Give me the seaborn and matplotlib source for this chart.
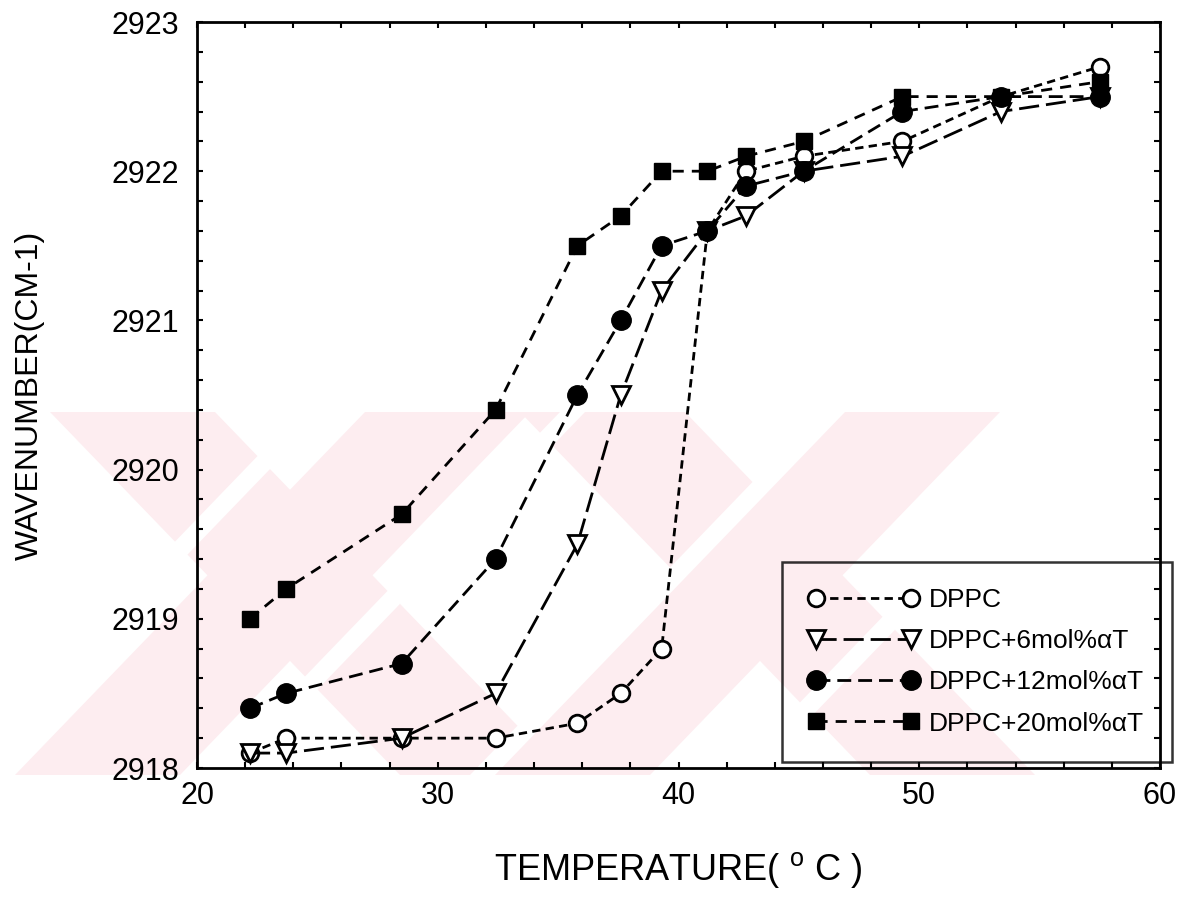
import matplotlib
matplotlib.use("Agg")
import matplotlib.pyplot as plt
import numpy as np
import pandas as pd
import seaborn as sns
from matplotlib import font_manager
from matplotlib.patches import Polygon
from matplotlib.ticker import MultipleLocator

# Measured C-H stretching wavenumber versus temperature
temperature = [22.2, 23.7, 28.5, 32.4, 35.8, 37.6, 39.3, 41.2, 42.8, 45.2, 49.3, 53.4, 57.5]
dppc = [2918.1, 2918.2, 2918.2, 2918.2, 2918.3, 2918.5, 2918.8, 2921.6, 2922.0, 2922.1, 2922.2, 2922.5, 2922.7]
dppc_6 = [2918.1, 2918.1, 2918.2, 2918.5, 2919.5, 2920.5, 2921.2, 2921.6, 2921.7, 2922.0, 2922.1, 2922.4, 2922.5]
dppc_12 = [2918.4, 2918.5, 2918.7, 2919.4, 2920.5, 2921.0, 2921.5, 2921.6, 2921.9, 2922.0, 2922.4, 2922.5, 2922.5]
dppc_20 = [2919.0, 2919.2, 2919.7, 2920.4, 2921.5, 2921.7, 2922.0, 2922.0, 2922.1, 2922.2, 2922.5, 2922.5, 2922.6]
series_labels = ["DPPC", "DPPC+6mol%αT", "DPPC+12mol%αT", "DPPC+20mol%αT"]

sns.set_theme(style="white")
available = {f.name for f in font_manager.fontManager.ttflist}
narrow = "Liberation Sans Narrow" if "Liberation Sans Narrow" in available else "Liberation Sans"
plt.rcParams["font.family"] = ["Liberation Sans", "DejaVu Sans"]
plt.rcParams["mathtext.fontset"] = "custom"
plt.rcParams["mathtext.rm"] = narrow
plt.rcParams["mathtext.it"] = narrow
plt.rcParams["lines.scale_dashes"] = False

W, H = 1194, 913
fig = plt.figure(figsize=(W / 100, H / 100), dpi=100, facecolor="white")

# faint background emblem
def px_poly(pts, color):
    xy = [(x / W, 1 - y / H) for x, y in pts]
    fig.patches.append(Polygon(xy, closed=True, transform=fig.transFigure,
                               facecolor=color, edgecolor="none", zorder=-5))

pink = "#fdedf0"
for dx in (0, 470):
    px_poly([(50 + dx, 412), (215 + dx, 412), (565 + dx, 775), (400 + dx, 775)], pink)
    px_poly([(365 + dx, 412), (530 + dx, 412), (180 + dx, 775), (15 + dx, 775)], pink)
for dx in (0, 260, 520, 780):
    px_poly([(300 + dx, 412), (325 + dx, 412), (-25 + dx, 775), (-50 + dx, 775)], "white")

ax = fig.add_axes([197 / W, 1 - 768 / H, (1160 - 197) / W, (768 - 22) / H])
ax.set_facecolor("none")

styles = [
    dict(marker="o", markersize=12, markerfacecolor="white", markeredgewidth=2.0, linestyle=(0, (6.0, 3.8))),
    dict(marker="v", markersize=13, markerfacecolor="white", markeredgewidth=2.0, linestyle=(0, (14.5, 5.0))),
    dict(marker="o", markersize=14, markerfacecolor="black", markeredgewidth=1.0, linestyle=(0, (10.0, 5.0))),
    dict(marker="s", markersize=12, markerfacecolor="black", markeredgewidth=1.0, linestyle=(0, (8.0, 5.8))),
]

for values, label, st in zip([dppc, dppc_6, dppc_12, dppc_20], series_labels, styles):
    df = pd.DataFrame({"temperature": temperature, "wavenumber": values})
    sns.lineplot(data=df, x="temperature", y="wavenumber", ax=ax, color="black",
                 linewidth=2.0, markeredgecolor="black", label=label, **st)

ax.set_xlim(20, 60)
ax.set_ylim(2918, 2923)
ax.xaxis.set_major_locator(MultipleLocator(10))
ax.xaxis.set_minor_locator(MultipleLocator(2))
ax.yaxis.set_major_locator(MultipleLocator(1))
ax.yaxis.set_minor_locator(MultipleLocator(0.2))
ax.tick_params(which="both", direction="in", length=4, width=1.5, color="black",
               top=True, right=True, bottom=True, left=True)
ax.tick_params(axis="x", which="major", labelsize=22, pad=9)
ax.tick_params(axis="y", which="major", labelsize=22, pad=13)
for lab in ax.get_xticklabels() + ax.get_yticklabels():
    lab.set_color("black")
for sp in ax.spines.values():
    sp.set_visible(True)
    sp.set_color("black")
    sp.set_linewidth(2.0)

ax.set_xlabel("TEMPERATURE( $^{\\mathrm{o}}$ C )", fontsize=26, family=[narrow, "DejaVu Sans"], color="black")
ax.set_ylabel("WAVENUMBER(CM-1)", fontsize=23, family=[narrow, "DejaVu Sans"], color="black")
ax.xaxis.set_label_coords(0.5, -0.11)
ax.yaxis.set_label_coords(-0.158, 0.5)

leg = ax.legend(loc="lower left", bbox_to_anchor=(0.6075, 0.008, 0.405, 0.3), mode="expand",
                borderaxespad=0, numpoints=2, handlelength=4.2, handletextpad=0.38,
                borderpad=1.0, labelspacing=0.65, fancybox=False, frameon=True,
                prop={"family": [narrow, "Liberation Sans", "DejaVu Sans"], "size": 19})
leg.get_frame().set_edgecolor("black")
leg.get_frame().set_linewidth(1.8)
leg.get_frame().set_facecolor("none")
for t in leg.get_texts():
    t.set_color("black")

fig.savefig("out.png", dpi=100, facecolor="white")
